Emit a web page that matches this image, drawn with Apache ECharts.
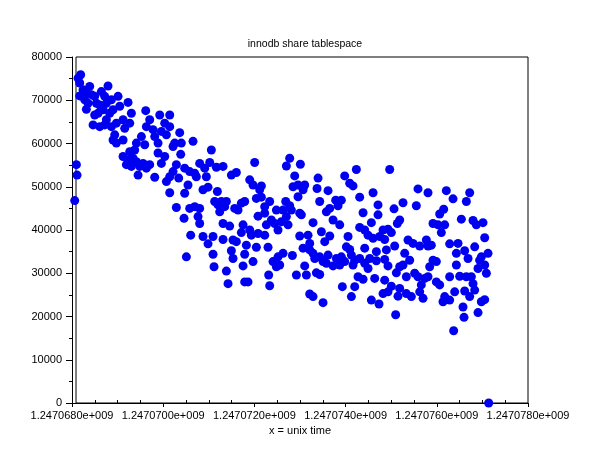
<!DOCTYPE html>
<html><head><meta charset="utf-8">
<script src="https://cdn.jsdelivr.net/npm/echarts@6/dist/echarts.min.js"></script>
<style>html,body{margin:0;padding:0;background:#fff}#c{width:610px;height:460px}</style>
</head><body><div id="c"></div>
<script>
const chartTitle = 'innodb share tablespace';
const xAxisName = 'x = unix time';
// x values are seconds after 1247068000 (first tick)
const xTickLabels = ['1.2470680e+009','1.2470700e+009','1.2470720e+009','1.2470740e+009','1.2470760e+009','1.2470780e+009'];
const yTickValues = [0,10000,20000,30000,40000,50000,60000,70000,80000];

const samplesA = [
[190,75900],[133,75100],[169,74000],[242,72400],[315,71600],[169,71000],[388,73200],[425,71300],[279,70100],[498,70900],
[352,69300],[315,67900],[535,69300],[644,72000],[790,73300],[717,70900],[608,68900],[681,67800],[571,67000],[498,66600],
[462,64300],[608,63900],[754,69300],[864,70100],[1010,70900],[900,67800],[827,67000],[1047,68600],[1229,69500],[754,65500],
[717,64300],[864,63900],[973,64700],[1120,65500],[1302,67000],[1266,64700],[1156,63500],[937,62000],[973,60100],[1120,60800],
[900,60800],[1617,67600],[1704,65500],[1631,63900],[1777,63200],[1924,66600],[2143,66600],[2033,64700],[2143,63900],[1814,61600],
[1887,60100],[1960,62800],[2070,62000],[1522,61600],[1412,60100],[1595,59700],[1375,58500],[1266,58100],[1120,57000],[1229,56200],
[1339,56600],[1193,55100],[1302,54700],[1412,55800],[1485,54700],[1558,55400],[1631,54300],[1704,55100],[1449,52700],[1814,52200],
[1887,57800],[2033,57000],[1960,55400],[2216,59300],[2216,53500],[2143,52300],[2070,51200],[2143,48600],[96,55100],[111,52700],[60,46800]
];
const samplesB = [
[2362,62500],[2252,60100],[2398,60100],[2654,60500],[2384,57500],[3056,58500],[2289,55100],[2471,54300],[2581,53500],[2691,53100],
[2800,55400],[2910,54300],[2727,52300],[2946,52300],[3020,55600],[3166,54500],[3312,54700],[3495,52700],[3604,53300],[2340,52000],
[2544,50400],[2471,48500],[2873,49300],[2983,49900],[3188,48900],[4006,55600],[3897,51600],[3970,50400],[4153,50200],[4116,49300],
[2289,45200],[2581,45000],[2691,45400],[2800,45000],[2457,42700],[2764,43100],[2800,41500],[3129,46600],[3275,46600],[3349,45400],
[3202,45800],[3385,46600],[3568,45000],[3714,46200],[3787,46600],[3641,44600],[3239,44200],[4043,47300],[4153,47600],[4335,46600],
[4482,44600],[4226,45400],[4226,43900],[4080,43200],[4372,42300],[4262,41200],[4445,41500],[4518,40000],[3312,41500],[3458,40900],
[3751,41200],[3714,39400],[3897,40000],[3933,38800],[4080,39200],[4226,38800],[2603,38800],[2873,38500],[3093,38500],[2983,36800],
[3312,37800],[3531,37700],[3604,37300],[3824,36500],[4043,36000],[4299,36000],[2508,33800],[3093,34400],[3495,35200],[3531,33400],
[3787,34400],[3970,32700],[4408,32700],[4518,33800],[4482,31500],[3115,31500],[3385,30500],[3751,31700],[3422,27600],[3787,28000],
[3860,28000],[4313,29600],[4335,27100]
];
const samplesC = [
[4774,56600],[4701,54800],[5008,55200],[4884,52500],[4847,50000],[4957,50400],[5103,50400],[5067,49300],[4957,47700],[5396,52000],
[5374,49600],[5615,49100],[5432,46600],[5980,52500],[6236,54000],[6090,50800],[6163,50200],[5783,46900],[5907,46900],[5834,45600],
[5578,44200],[5652,45000],[5725,42300],[5871,41200],[4687,46600],[4774,45600],[4811,44600],[4628,44600],[4701,43100],[4592,41900],
[4738,41200],[4994,43900],[5030,43500],[5286,41700],[5469,39600],[5542,37300],[5652,38600],[6054,38500],[6017,36100],[4994,38600],
[5176,38800],[5213,36900],[5213,35400],[5067,35800],[4628,34600],[4555,31900],[4833,34100],[5286,34600],[5323,33400],[5432,33800],
[5505,32700],[5615,34200],[5578,32300],[5725,31700],[5798,33400],[5907,33800],[5871,31900],[5980,32700],[6090,35500],[6127,34200],
[6200,33000],[6163,31900],[6309,33400],[6419,35800],[6419,32300],[6492,31100],[6529,33400],[6675,35000],[6309,40600],[6419,40000],
[6492,38800],[6602,38100],[6748,38500],[6821,40000],[6309,47600],[6383,44000],[6602,48600],[6711,45800],[6711,43500],[6565,41700],
[6675,32900],[5103,31700],[4921,29600],[5140,29600],[5359,30100],[5432,29700],[6273,29200],[6383,28600],[6200,26900],[6638,28800],
[5929,26900],[5213,25200],[5286,24600],[5505,23200],[6127,24600],[6565,23800],[6733,22900],[6821,25300]
];
const samplesD = [
[6967,54000],[7588,49500],[7807,48600],[8209,49100],[8356,47200],[8721,48600],[8648,46600],[7259,46300],[7062,44900],[7551,45600],
[8063,43700],[8151,44800],[7186,42300],[7135,41500],[6930,40200],[7003,39400],[7917,41500],[8027,41200],[8173,41200],[8100,39400],
[8538,42500],[8794,42200],[8867,41200],[9013,41700],[9050,38200],[6857,37800],[6894,35400],[7076,36300],[7369,37700],[7478,36900],
[7625,36300],[7771,37700],[7807,36300],[7880,36500],[8282,36800],[8465,36900],[8429,34600],[8611,35200],[8685,33400],[8831,36100],
[7296,34600],[7405,33000],[6857,33200],[6930,31700],[7186,31500],[7259,31900],[7113,30100],[7917,33000],[7990,32700],[7844,31500],
[8977,33800],[8940,33000],[9123,34600],[8904,31100],[9050,31900],[9087,30000],[8429,31900],[6857,28400],[7003,27000],[6930,25700],
[7186,26500],[7149,24700],[7332,25300],[7442,24600],[7332,29200],[7515,30000],[7588,29200],[7661,27300],[7734,28800],[7807,29200],
[7625,25700],[7698,24200],[7990,28000],[8063,27300],[8282,29200],[8502,29300],[8648,29200],[8758,29200],[8794,27600],[8611,25900],
[8721,24600],[8831,26100],[8173,24600],[8136,23400],[8282,23800],[8392,25700],[8977,23400],[9050,23900],[8575,22200],[8904,20900],
[7098,20400],[8597,19800],[8370,16700],[9138,0]
];
const samples = samplesA.concat(samplesB, samplesC, samplesD);

const font = '"Liberation Sans", Arial, sans-serif';
const chart = echarts.init(document.getElementById('c'), null, {renderer: 'canvas'});
chart.setOption({
  animation: false,
  backgroundColor: '#ffffff',
  textStyle: {fontFamily: font, color: '#000'},
  title: {
    text: chartTitle, left: 'center', top: 39, padding: 0,
    textStyle: {fontSize: 10.5, fontWeight: 'normal', color: '#000', fontFamily: font}
  },
  grid: [
    {left: 72, right: 82, top: 57, bottom: 57, containLabel: false, outerBoundsMode: 'none'},
    {left: 76, right: 82, top: 57, bottom: 57, containLabel: false, outerBoundsMode: 'none',
     show: true, borderColor: '#000', borderWidth: 1, backgroundColor: 'transparent'}
  ],
  xAxis: [{
    type: 'value', gridIndex: 0, min: 0, max: 10000, interval: 2000,
    name: xAxisName, nameLocation: 'middle', nameGap: 21,
    nameTextStyle: {fontSize: 11, color: '#000', fontFamily: font},
    axisLine: {show: true, lineStyle: {color: '#000', width: 1}},
    axisTick: {show: true, inside: false, length: 4, lineStyle: {color: '#000'}},
    minorTick: {show: true, splitNumber: 4, length: -3, lineStyle: {color: '#000'}},
    splitLine: {show: false},
    axisLabel: {
      margin: 7, fontSize: 11, color: '#000', fontFamily: font,
      formatter: function (v) { return xTickLabels[Math.round(v / 2000)]; }
    }
  }, {
    type: 'value', gridIndex: 1, min: 0, max: 10000, show: false
  }],
  yAxis: [{
    type: 'value', gridIndex: 0, min: 0, max: 80000, interval: 10000,
    axisLine: {show: true, lineStyle: {color: '#000', width: 1}},
    axisTick: {show: true, inside: false, length: 6, lineStyle: {color: '#000'}},
    minorTick: {show: true, splitNumber: 2, length: 3, lineStyle: {color: '#000'}},
    splitLine: {show: false},
    axisLabel: {margin: 10, fontSize: 11, color: '#000', fontFamily: font,
      formatter: function (v) { return String(yTickValues[Math.round(v / 10000)]); }}
  }, {
    type: 'value', gridIndex: 1, min: 0, max: 80000, show: false
  }],
  series: [{
    type: 'scatter', xAxisIndex: 0, yAxisIndex: 0,
    data: samples, symbol: 'circle', symbolSize: 9,
    itemStyle: {color: '#0000f0', opacity: 1},
    emphasis: {disabled: true}, silent: true
  }]
});
</script>
</body></html>
